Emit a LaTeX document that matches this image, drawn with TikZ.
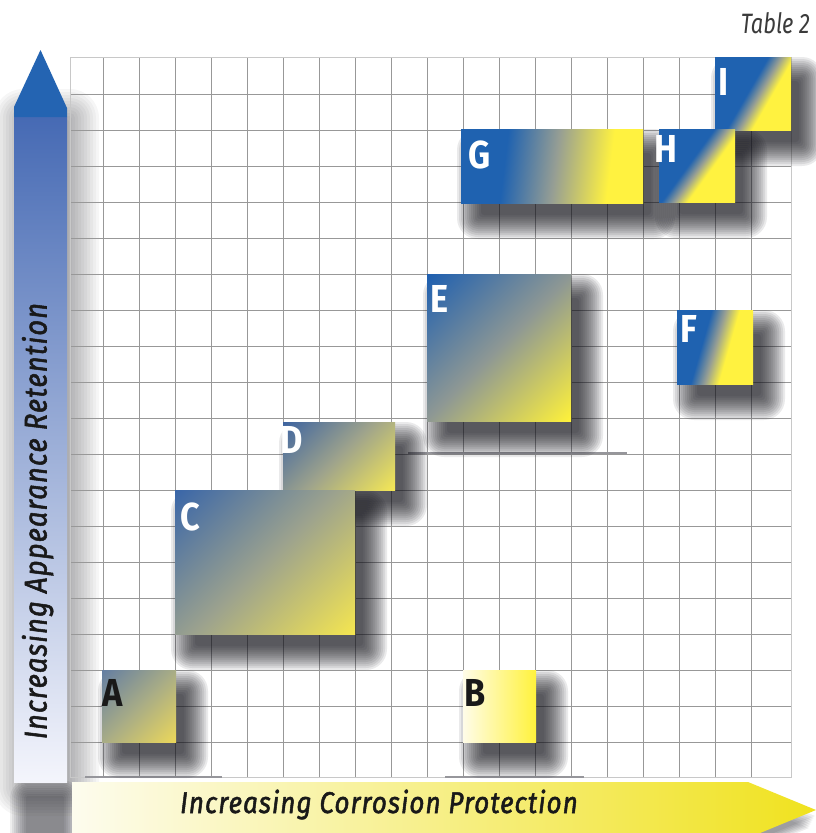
\documentclass[tikz,border=0pt]{standalone}
\usepackage{fontspec}
\newfontfamily\axisfont{Fira Sans}[LetterSpace=3.5, FakeStretch=0.87, FakeBold=1.6]
\newfontfamily\boxfont{Fira Sans}[FakeStretch=0.88]
\newfontfamily\tabfont{Fira Sans}[FakeStretch=0.78]
\definecolor{bl}{RGB}{31,98,176}
\definecolor{ye}{RGB}{255,242,64}
\definecolor{midg}{RGB}{150,158,148}
\definecolor{gridc}{RGB}{152,152,152}
\definecolor{borderc}{RGB}{200,200,200}
\definecolor{artc}{RGB}{150,150,155}
\definecolor{headblue}{RGB}{36,100,178}
\definecolor{shafttop}{RGB}{70,106,180}
\definecolor{shaftbot}{RGB}{244,245,252}
\definecolor{arrleft}{RGB}{253,252,238}
\definecolor{arrright}{RGB}{240,226,30}
\definecolor{aTL}{RGB}{100,126,162}
\definecolor{aM}{RGB}{168,172,134}
\definecolor{aBR}{RGB}{236,216,90}
\definecolor{bL}{RGB}{255,252,232}
\definecolor{bR}{RGB}{255,242,60}
\definecolor{cTL}{RGB}{58,102,168}
\definecolor{cM}{RGB}{156,162,142}
\definecolor{cBR}{RGB}{245,230,80}
\definecolor{dTL}{RGB}{62,100,160}
\definecolor{dM}{RGB}{158,163,140}
\definecolor{dBR}{RGB}{245,232,85}
\definecolor{eTL}{RGB}{30,95,176}
\definecolor{eM}{RGB}{142,152,148}
\definecolor{eBR}{RGB}{255,242,58}
\definecolor{labdark}{RGB}{25,25,25}
\definecolor{shadc}{RGB}{20,20,28}
\pgfdeclarehorizontalshading{shA}{100bp}{color(0bp)=(aTL); color(14.6bp)=(aTL); color(50bp)=(aM); color(85.4bp)=(aBR); color(100bp)=(aBR)}
\pgfdeclarehorizontalshading{shB}{100bp}{color(0bp)=(bL); color(25bp)=(bL); color(75bp)=(bR); color(100bp)=(bR)}
\pgfdeclarehorizontalshading{shC}{100bp}{color(0bp)=(cTL); color(14.6bp)=(cTL); color(50bp)=(cM); color(85.4bp)=(cBR); color(100bp)=(cBR)}
\pgfdeclarehorizontalshading{shD}{100bp}{color(0bp)=(dTL); color(14.6bp)=(dTL); color(50bp)=(dM); color(85.4bp)=(dBR); color(100bp)=(dBR)}
\pgfdeclarehorizontalshading{shE}{100bp}{color(0bp)=(eTL); color(14.6bp)=(eTL); color(50bp)=(eM); color(85.4bp)=(eBR); color(100bp)=(eBR)}
\pgfdeclarehorizontalshading{shF}{100bp}{color(0bp)=(bl); color(41bp)=(bl); color(50bp)=(midg); color(59bp)=(ye); color(100bp)=(ye)}
\pgfdeclarehorizontalshading{shG}{100bp}{color(0bp)=(bl); color(36bp)=(bl); color(51bp)=(midg); color(67bp)=(ye); color(100bp)=(ye)}
\pgfdeclarehorizontalshading{shH}{100bp}{color(0bp)=(bl); color(45bp)=(bl); color(52bp)=(midg); color(59bp)=(ye); color(100bp)=(ye)}
\pgfdeclarehorizontalshading{shI}{100bp}{color(0bp)=(bl); color(46.5bp)=(bl); color(54bp)=(midg); color(61.5bp)=(ye); color(100bp)=(ye)}
\pgfdeclarelayer{gridl}
\pgfdeclarelayer{shadowl}
\pgfsetlayers{gridl,shadowl,main}
\tikzset{
  gridline/.style={draw=gridc, line width=1pt},
  borderline/.style={draw=borderc, line width=1pt},
  artline/.style={draw=artc, line width=1.6pt},
  boxnode/.style={shade, draw=none, inner sep=0pt, outer sep=0pt},
  boxlabel/.style={font=\boxfont\bfseries\fontsize{39}{39}\selectfont, text=white, inner sep=0pt},
  darklabel/.style={boxlabel, text=labdark},
  axislabel/.style={font=\axisfont\itshape\fontsize{30}{30}\selectfont, text=labdark, inner sep=0pt, anchor=base},
  shadowlayer/.style={fill=shadc, opacity=0.085},
}
% soft drop shadow under a named box: stacked, growing, translucent rectangles
\newcommand\softshadow[1]{%
  \foreach \k in {0,...,12}{%
    \pgfmathsetmacro\rr{-6+2*\k}%
    \pgfmathsetmacro\rc{max(\rr,0)+3}%
    \pgfmathsetmacro\axl{14-\rr}%
    \pgfmathsetmacro\axr{14+\rr}%
    \pgfmathsetmacro\ayt{\rr-18}%
    \pgfmathsetmacro\ayb{-18-\rr}%
    \fill[shadowlayer, rounded corners=\rc pt]
      ([xshift=\axl pt, yshift=\ayt pt]#1.north west) rectangle ([xshift=\axr pt, yshift=\ayb pt]#1.south east);
  }}
\begin{document}
\begin{tikzpicture}[x=1pt,y=-1pt]
\useasboundingbox (0,0) rectangle (816,833);
\begin{pgfonlayer}{gridl}
\fill[white] (0,0) rectangle (816,833);
% vertical arrow shadow
\foreach \k in {0,...,10}{%
  \pgfmathsetmacro\rr{-4+3*\k}%
  \pgfmathsetmacro\rc{max(\rr,0)+3}%
  \fill[shadc, opacity=0.035, rounded corners=\rc pt] (20-\rr,115-\rr) rectangle (73+\rr,790+\rr);
}
\foreach \k in {0,...,8}{%
  \pgfmathsetmacro\rr{2*\k}%
  \fill[shadc, opacity=0.07, rounded corners=\rr pt+2pt] (26-\rr,796-\rr) rectangle (64+\rr,845+\rr);
}
% horizontal arrow tip shadow
\foreach \k in {1,...,7}{%
  \fill[shadc, opacity=0.07] (748-\k,786+2*\k) -- (816-\k,814+2*\k) -- (748-\k,842+2*\k) -- cycle;
}
% horizontal arrow
\shade[left color=arrleft, right color=arrright]
  (72,782) -- (748,782) -- (816,810) -- (748,838) -- (72,838) -- cycle;
% vertical arrow body
\shade[top color=shafttop, bottom color=shaftbot] (14,117) rectangle (67,782);
\fill[headblue] (14,117) -- (14,107) -- (40.5,50) -- (67,108) -- (67,117) -- cycle;
% grid
\foreach \x in {103,139,...,751} \draw[gridline] (\x,57) -- (\x,777);
\foreach \y in {94,130,...,742} \draw[gridline] (70,\y) -- (791,\y);
\draw[borderline] (70,57) rectangle (791,777);
\draw[artline] (85,777) -- (222,777);
\draw[artline] (445,777) -- (584,777);
\draw[artline] (408,453) -- (627,453);
\end{pgfonlayer}
% boxes
\node[boxnode, shading=shA, shading angle=-45, minimum width=74pt, minimum height=72pt] (A) at (139,706) {};
\node[boxnode, shading=shB, shading angle=0, minimum width=73pt, minimum height=72pt] (B) at (499.5,706) {};
\node[boxnode, shading=shD, shading angle=-45, minimum width=112pt, minimum height=68pt] (D) at (339,456) {};
\node[boxnode, shading=shC, shading angle=-45, minimum width=180pt, minimum height=144pt] (C) at (265,562) {};
\node[boxnode, shading=shE, shading angle=-45, minimum width=144pt, minimum height=147pt] (E) at (499,347.5) {};
\node[boxnode, shading=shF, shading angle=-16, minimum width=76pt, minimum height=74pt] (F) at (715,347) {};
\node[boxnode, shading=shG, shading angle=-7, minimum width=182pt, minimum height=74pt] (G) at (552,166) {};
\node[boxnode, shading=shI, shading angle=-30, minimum width=76pt, minimum height=73pt] (I) at (753,93.5) {};
\node[boxnode, shading=shH, shading angle=-36, minimum width=76pt, minimum height=73pt] (H) at (697,165.5) {};
\begin{pgfonlayer}{shadowl}
\foreach \b in {A,B,C,D,E,F,G,H,I} {\softshadow{\b}}
\end{pgfonlayer}
% labels
\node[darklabel] (lA) at (113,693) {A};
\node[darklabel] (lB) at (475,693) {B};
\node[boxlabel] (lC) at (190,517) {C};
\node[boxlabel] (lD) at (292,440) {D};
\node[boxlabel] (lE) at (440,298.5) {E};
\node[boxlabel] (lF) at (688.7,329) {F};
\node[boxlabel] (lG) at (480,154.5) {G};
\node[boxlabel] (lH) at (666,149) {H};
\node[boxlabel] (lI) at (724,82) {I};
% axis texts
\node[axislabel] (xlab) at (379,813) {Increasing Corrosion Protection};
\node[axislabel, rotate=90, font=\axisfont\itshape\fontsize{31.5}{31.5}\selectfont] (ylab) at (46.5,521) {Increasing Appearance Retention};
\node[font=\tabfont\itshape\fontsize{28}{28}\selectfont, text=labdark!85, inner sep=0pt, anchor=base east] (tab) at (810,33) {Table 2};
\end{tikzpicture}
\end{document}
